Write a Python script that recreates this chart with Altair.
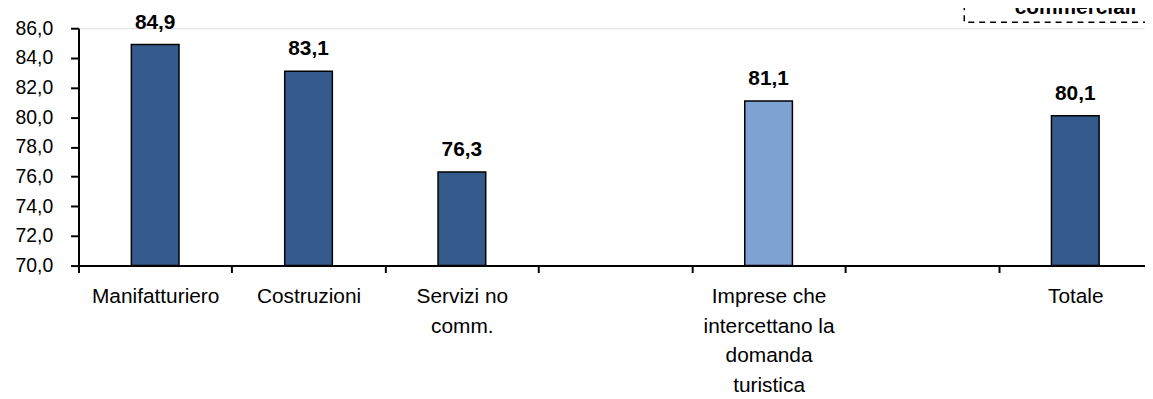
import altair as alt
import pandas as pd

# ---- data ----
categories = ["Manifatturiero", "Costruzioni", "Servizi no|comm.", " ",
              "Imprese che|intercettano la|domanda|turistica", "  ", "Totale"]
bar_categories = ["Manifatturiero", "Costruzioni", "Servizi no|comm.",
                  "Imprese che|intercettano la|domanda|turistica", "Totale"]
bar_values = [84.9, 83.1, 76.3, 81.1, 80.1]
bar_groups = ["settori", "settori", "settori", "turismo", "settori"]
y_ticks = [70, 72, 74, 76, 78, 80, 82, 84, 86]
box_text = ["commerciali"]

df = pd.DataFrame({"cat": bar_categories, "val": bar_values, "grp": bar_groups})

FONT = "Liberation Sans, Arial, sans-serif"
X_SCALE = alt.Scale(domain=categories, paddingInner=0, paddingOuter=0, range=[0, 1081])
Y_SCALE = alt.Scale(domain=[70, 86], zero=False, nice=False)

X_AXIS = alt.Axis(
    title=None,
    labelAngle=0,
    labelExpr="split(datum.label, '|')",
    labelFont=FONT,
    labelFontSize=21,
    labelColor="black",
    labelLineHeight=30,
    labelPadding=13,
    labelBaseline="top",
    labelOverlap=False,
    tickBand="extent",
    tickSize=7,
    tickColor="black",
    tickWidth=2,
    domainColor="black",
    domainWidth=2,
    labelLimit=400,
)

Y_AXIS = alt.Axis(
    title=None,
    values=y_ticks,
    labelExpr="replace(format(datum.value, '.1f'), '.', ',')",
    labelFont=FONT,
    labelFontSize=19.5,
    labelColor="black",
    labelPadding=18,
    labelOverlap=False,
    labelFlush=False,
    tickSize=8,
    tickColor="black",
    tickWidth=2,
    domainColor="black",
    domainWidth=2,
    grid=False,
)

bars = alt.Chart(df).mark_bar(size=48, stroke="black", strokeWidth=1.5).encode(
    x=alt.X("cat:N", sort=categories, scale=X_SCALE, axis=X_AXIS),
    y=alt.Y("val:Q", scale=Y_SCALE, axis=Y_AXIS),
    y2=alt.datum(70),
    color=alt.Color(
        "grp:N",
        scale=alt.Scale(domain=["settori", "turismo"], range=["#345B8C", "#7EA3D2"]),
        legend=None,
    ),
)

labels = alt.Chart(df).transform_calculate(
    lab="replace(format(datum.val, '.1f'), '.', ',')"
).mark_text(
    font=FONT, fontSize=21, fontWeight="bold", color="black",
    baseline="alphabetic", dy=-16,
).encode(
    x=alt.X("cat:N", sort=categories, scale=X_SCALE, axis=X_AXIS),
    y=alt.Y("val:Q", scale=Y_SCALE, axis=Y_AXIS),
    text="lab:N",
)

box_df = pd.DataFrame({"t": box_text})
box = alt.Chart(box_df).mark_rect(
    fill=None, fillOpacity=0, stroke="black", strokeWidth=1.5, strokeDash=[6, 5]
).encode(
    x=alt.value(892), x2=alt.value(1200), y=alt.value(-60), y2=alt.value(-6),
)
box_label = alt.Chart(box_df).mark_text(
    font=FONT, fontSize=21, fontWeight="bold", color="black", baseline="alphabetic",
).encode(
    x=alt.value(1004), y=alt.value(-14), text="t:N",
)

chart = alt.layer(bars, labels, box, box_label).properties(
    width=1074,
    height=239,
    autosize=alt.AutoSizeParams(type="none"),
    padding={"left": 71, "top": 19, "right": 0, "bottom": 133},
).configure_view(stroke=None).configure(background="white")

chart.save("out.html", embed_options={"renderer": "svg", "actions": False})
